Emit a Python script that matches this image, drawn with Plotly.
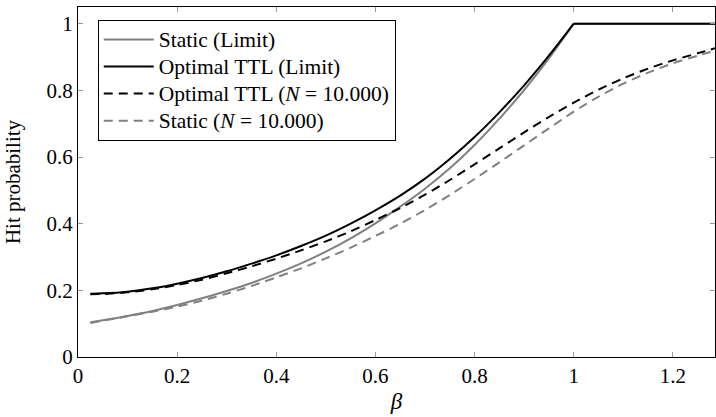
import plotly.graph_objects as go

# beta values
beta_limit = [0.025, 0.05, 0.1, 0.15, 0.2, 0.25, 0.3, 0.35, 0.4, 0.45, 0.5, 0.55, 0.6,
              0.65, 0.7, 0.75, 0.8, 0.85, 0.9, 0.95, 1.0]
static_limit = [0.104, 0.110, 0.123, 0.138, 0.156, 0.176, 0.198, 0.222, 0.250, 0.281, 0.316,
                0.356, 0.401, 0.451, 0.505, 0.566, 0.636, 0.715, 0.801, 0.896, 1.0]
optimal_limit = [0.190, 0.191, 0.196, 0.206, 0.220, 0.237, 0.257, 0.280, 0.305, 0.333, 0.364,
                 0.400, 0.440, 0.484, 0.535, 0.594, 0.660, 0.734, 0.815, 0.904, 1.0]
beta_flat = [1.0, 1.285]
flat_limit = [1.0, 1.0]

beta_sim = [0.025, 0.05, 0.1, 0.15, 0.2, 0.25, 0.3, 0.35, 0.4, 0.45, 0.5, 0.55, 0.6, 0.65,
            0.7, 0.75, 0.8, 0.85, 0.9, 0.95, 1.0, 1.05, 1.1, 1.15, 1.2, 1.25, 1.285]
optimal_sim = [0.188, 0.189, 0.194, 0.203, 0.216, 0.232, 0.251, 0.272, 0.295, 0.320, 0.347,
               0.377, 0.411, 0.447, 0.487, 0.531, 0.578, 0.626, 0.674, 0.720, 0.763, 0.802,
               0.836, 0.865, 0.890, 0.911, 0.926]
static_sim = [0.102, 0.109, 0.122, 0.136, 0.151, 0.169, 0.190, 0.213, 0.239, 0.266, 0.296,
              0.328, 0.363, 0.400, 0.441, 0.486, 0.534, 0.584, 0.635, 0.686, 0.736, 0.781,
              0.820, 0.853, 0.881, 0.904, 0.919]

x_ticks = [0, 0.2, 0.4, 0.6, 0.8, 1, 1.2]
x_ticklabels = ["0", "0.2", "0.4", "0.6", "0.8", "1", "1.2"]
y_ticks = [0, 0.2, 0.4, 0.6, 0.8, 1]
y_ticklabels = ["0", "0.2", "0.4", "0.6", "0.8", "1"]

GREY = "#808080"
FONT = "Liberation Serif"
DASH = "9px,6px"
SPL = dict(shape="spline", smoothing=0.8)
FS = 21


def big(t):
    return '<span style="font-size:21.5px">' + t + '</span>'


fig = go.Figure()
fig.add_trace(go.Scatter(x=beta_limit, y=static_limit, mode="lines", name=big("Static (Limit)"),
                         legendgroup="a", line=dict(color=GREY, width=2, **SPL)))
fig.add_trace(go.Scatter(x=beta_flat, y=flat_limit, mode="lines", showlegend=False,
                         legendgroup="a", line=dict(color=GREY, width=2)))
fig.add_trace(go.Scatter(x=beta_limit, y=optimal_limit, mode="lines", name=big("Optimal TTL (Limit)"),
                         legendgroup="b", line=dict(color="black", width=2, **SPL)))
fig.add_trace(go.Scatter(x=beta_flat, y=flat_limit, mode="lines", showlegend=False,
                         legendgroup="b", line=dict(color="black", width=2)))
fig.add_trace(go.Scatter(x=beta_sim, y=optimal_sim, mode="lines",
                         name=big("Optimal TTL (<i>N</i> = 10.000)"), legendgroup="c",
                         line=dict(color="black", width=2, dash=DASH, **SPL)))
fig.add_trace(go.Scatter(x=beta_sim, y=static_sim, mode="lines",
                         name=big("Static (<i>N</i> = 10.000)"), legendgroup="d",
                         line=dict(color=GREY, width=2, dash=DASH, **SPL)))

axis_common = dict(showline=True, linecolor="black", linewidth=1, mirror="ticks",
                   ticks="inside", ticklen=5, tickcolor="#999999", tickwidth=1,
                   showgrid=False, zeroline=False,
                   tickfont=dict(family=FONT, size=FS, color="black"))

fig.update_xaxes(range=[0, 1.285], tickvals=x_ticks, ticktext=x_ticklabels,
                 title=dict(text="<i>β</i>", font=dict(family=FONT, size=23, color="black"), standoff=5),
                 **axis_common)
fig.update_yaxes(range=[0, 1.05], tickvals=y_ticks, ticktext=y_ticklabels,
                 title=dict(text="Hit probability", font=dict(family=FONT, size=FS, color="black"), standoff=20),
                 **axis_common)

fig.update_layout(
    width=716, height=417,
    margin=dict(l=78, r=1, t=7, b=60),
    plot_bgcolor="white", paper_bgcolor="white",
    font=dict(family=FONT, size=FS, color="black"),
    legend=dict(x=0.031, y=0.963, xanchor="left", yanchor="top",
                bordercolor="black", borderwidth=1, bgcolor="white",
                traceorder="grouped", tracegroupgap=0, itemwidth=50,
                font=dict(family=FONT, size=18.5, color="black")),
    showlegend=True,
)

fig.write_html("out.html")
